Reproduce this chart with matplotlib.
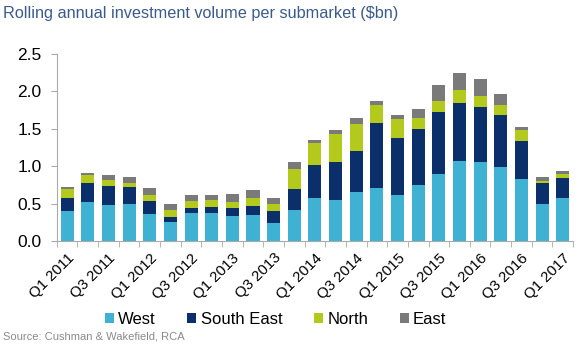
import numpy as np
import matplotlib.pyplot as plt

plt.rcParams['font.family'] = ['Liberation Sans', 'DejaVu Sans']

# quarters Q1 2011 .. Q1 2017
quarters = []
for yr in range(2011, 2018):
    for q in range(1, 5):
        quarters.append(f"Q{q} {yr}")
quarters = quarters[:25]

# stacked components ($bn)
west = [0.40, 0.52, 0.48, 0.50, 0.36, 0.25, 0.38, 0.37, 0.34, 0.35, 0.24, 0.42, 0.57,
        0.55, 0.66, 0.71, 0.62, 0.75, 0.89, 1.07, 1.05, 0.99, 0.83, 0.50, 0.58]
south_east = [0.18, 0.26, 0.26, 0.22, 0.17, 0.07, 0.06, 0.08, 0.10, 0.12, 0.16, 0.28, 0.45,
              0.50, 0.54, 0.87, 0.75, 0.75, 0.83, 0.77, 0.74, 0.69, 0.51, 0.27, 0.26]
north = [0.11, 0.10, 0.08, 0.06, 0.09, 0.09, 0.10, 0.10, 0.08, 0.10, 0.09, 0.26, 0.29,
         0.38, 0.37, 0.24, 0.26, 0.14, 0.15, 0.18, 0.15, 0.14, 0.14, 0.03, 0.06]
east = [0.03, 0.03, 0.06, 0.08, 0.09, 0.09, 0.07, 0.07, 0.11, 0.11, 0.08, 0.10, 0.04,
        0.05, 0.08, 0.05, 0.05, 0.12, 0.22, 0.23, 0.23, 0.15, 0.04, 0.05, 0.04]

series = [("West", west, "#3fb2d4"),
          ("South East", south_east, "#0b2f6b"),
          ("North", north, "#b3ca1c"),
          ("East", east, "#7a7a7a")]

fig = plt.figure(figsize=(5.8, 3.52), dpi=100)
ax = fig.add_axes([0.098, 0.315, 0.89, 0.532])

x = np.arange(len(quarters))
bottom = np.zeros(len(quarters))
for name, vals, col in series:
    ax.bar(x, vals, 0.63, bottom=bottom, color=col, label=name, zorder=2)
    bottom += np.array(vals)

ax.set_xlim(-0.5, len(quarters) - 0.5)
ax.set_ylim(0, 2.5)
ax.set_yticks(np.arange(0, 2.51, 0.5))
ax.set_yticklabels([f"{v:.1f}" for v in np.arange(0, 2.51, 0.5)], fontsize=12.5)

ax.set_xticks(x[::2])
ax.set_xticklabels(quarters[::2], rotation=45, ha='right', rotation_mode='anchor', fontsize=10.8)
ax.set_xticks(np.arange(-0.5, len(quarters), 1), minor=True)
ax.tick_params(axis='x', which='major', length=0, pad=7)
ax.tick_params(axis='x', which='minor', length=4, color='#aaaaaa', direction='out')
ax.tick_params(axis='y', length=4, color='#aaaaaa', pad=7)

for s in ['top', 'right']:
    ax.spines[s].set_visible(False)
for s in ['left', 'bottom']:
    ax.spines[s].set_color('#aaaaaa')

fig.text(0.005, 0.962, "Rolling annual investment volume per submarket ($bn)",
         fontsize=11.7, color='#3a5a8c', va='center')
fig.text(0.005, 0.043, "Source: Cushman & Wakefield, RCA", fontsize=8, color='#8a8a8a', va='center')

fig.legend(loc='center', bbox_to_anchor=(0.475, 0.093), ncol=4, frameon=False, fontsize=12,
           handlelength=0.55, handleheight=0.55, handletextpad=0.25, columnspacing=1.9)

fig.savefig("out.png", dpi=100)
